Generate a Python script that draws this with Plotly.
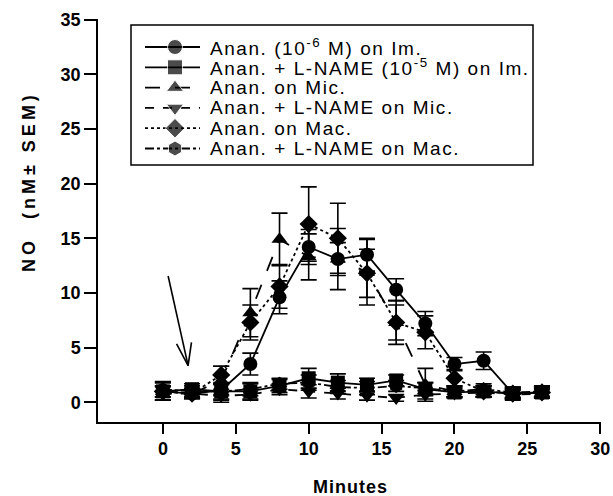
import plotly.graph_objects as go

minutes = [0, 2, 4, 6, 8, 10, 12, 14, 16, 18, 20, 22, 24, 26]

names = [
    "Anan. (10<sup>-6</sup> M) on Im.",
    "Anan. + L-NAME (10<sup>-5</sup> M) on Im.",
    "Anan. on Mic.",
    "Anan. + L-NAME on Mic.",
    "Anan. on Mac.",
    "Anan. + L-NAME on Mac.",
]

anan_im = [1.0, 0.8, 1.1, 3.5, 9.6, 14.2, 13.1, 13.5, 10.3, 7.2, 3.5, 3.8, 0.8, 0.9]
anan_im_err = [0.8, 0.5, 0.5, 1.0, 1.5, 1.6, 1.5, 1.5, 1.0, 1.1, 0.6, 0.8, 0.6, 0.5]

lname_im = [1.0, 1.2, 1.0, 1.0, 1.5, 2.2, 1.8, 1.6, 2.0, 1.2, 0.9, 1.0, 0.8, 0.9]
lname_im_err = [0.8, 0.5, 0.8, 0.7, 0.6, 0.9, 0.8, 0.6, 0.5, 0.6, 0.4, 0.5, 0.5, 0.5]

anan_mic = [1.0, 0.8, 2.0, 8.2, 14.9, 13.3, 13.1, 11.9, 7.3, 1.6, 1.0, 1.0, 0.8, 0.9]
anan_mic_err = [0.5, 0.4, 1.3, 2.2, 2.4, 2.1, 2.8, 3.0, 2.0, 1.5, 0.5, 0.5, 0.4, 0.4]

lname_mic = [0.8, 0.8, 0.6, 0.7, 1.2, 1.0, 0.8, 0.6, 0.4, 0.7, 0.8, 0.9, 0.7, 0.8]
lname_mic_err = [0.6, 0.4, 0.6, 0.5, 0.5, 0.6, 0.5, 0.4, 0.3, 0.4, 0.4, 0.4, 0.4, 0.4]

anan_mac = [1.0, 0.8, 2.5, 7.3, 10.6, 16.3, 15.0, 11.8, 7.3, 6.4, 2.2, 1.0, 0.8, 0.9]
anan_mac_err = [0.5, 0.4, 0.8, 1.6, 2.0, 3.4, 3.2, 2.2, 1.6, 1.5, 0.8, 0.5, 0.4, 0.4]

lname_mac = [1.2, 1.0, 1.0, 1.2, 1.7, 1.8, 1.4, 1.3, 1.5, 1.3, 1.0, 1.2, 0.9, 1.0]
lname_mac_err = [0.7, 0.5, 0.7, 0.6, 0.5, 0.7, 0.6, 0.6, 0.5, 0.5, 0.5, 0.5, 0.5, 0.5]

x_ticks = [0, 5, 10, 15, 20, 25, 30]
y_ticks = [0, 5, 10, 15, 20, 25, 30, 35]

series = [
    (anan_im, anan_im_err, "circle", "solid"),
    (lname_im, lname_im_err, "square", "solid"),
    (anan_mic, anan_mic_err, "triangle-up", "longdash"),
    (lname_mic, lname_mic_err, "triangle-down", "dash"),
    (anan_mac, anan_mac_err, "diamond", "dot"),
    (lname_mac, lname_mac_err, "hexagon", "dashdot"),
]

# arrow (data coords): tail, tip, head-left, head-right
arrow_tail = (0.36, 11.55)
arrow_tip = (1.73, 3.36)
arrow_left = (0.94, 5.34)
arrow_right = (1.96, 5.48)

W, H = 613, 496
ML, MR, MT, MB = 98, 12, 19, 74
PW, PH = W - ML - MR, H - MT - MB


def px(xp):
    return (xp - ML) / PW


def py(yp):
    return (H - MB - yp) / PH


FONT = "Liberation Sans, Arial"


def spaced(t, s):
    return f'<span style="letter-spacing:{s}px">{t}</span>'


fig = go.Figure()
for (vals, errs, sym, dash), name in zip(series, names):
    fig.add_trace(go.Scatter(
        x=minutes, y=vals, name=name, mode="lines+markers", showlegend=False,
        line=dict(color="black", width=1.8, dash=dash),
        marker=dict(symbol=sym, size=14, color="black"),
        error_y=dict(type="data", array=errs, visible=True, color="black",
                     thickness=1.6, width=8),
    ))

for p in (arrow_tail, arrow_left, arrow_right):
    fig.add_shape(type="line", xref="x", yref="y",
                  x0=p[0], y0=p[1], x1=arrow_tip[0], y1=arrow_tip[1],
                  line=dict(color="black", width=1.6))

# ---- hand-built legend (paper-space overlay axis) ----
fig.add_shape(type="rect", xref="paper", yref="paper",
              x0=px(131), x1=px(533), y0=py(165), y1=py(25),
              line=dict(color="black", width=1.5), fillcolor="white", layer="below")
row0, dy = 47, 20.3
for i, ((vals, errs, sym, dash), name) in enumerate(zip(series, names)):
    yy = py(row0 + i * dy)
    fig.add_trace(go.Scatter(
        x=[px(145), px(175), px(200)], y=[yy, yy, yy], xaxis="x2", yaxis="y2",
        mode="lines+markers", showlegend=False, hoverinfo="skip",
        line=dict(color="black", width=1.8, dash=dash),
        marker=dict(symbol=sym, size=[0, 15, 0], color="black"),
    ))
    fig.add_annotation(
        text=spaced(name, 1.55), xref="paper", yref="paper", x=px(208), y=yy,
        xanchor="left", yanchor="middle", showarrow=False,
        font=dict(family=FONT, size=19, color="black"),
    )

tickfont = dict(family=FONT, size=18, color="black", weight="bold")

fig.update_layout(
    width=W, height=H,
    margin=dict(l=ML, r=MR, t=MT, b=MB),
    plot_bgcolor="white", paper_bgcolor="white",
    showlegend=False,
    font=dict(family=FONT, size=18, color="black"),
    xaxis=dict(
        range=[-4.45, 30.05], tickvals=x_ticks, ticktext=[str(v) for v in x_ticks],
        showgrid=False, zeroline=False, showline=True, linecolor="black", linewidth=1.5,
        ticks="outside", ticklen=10, tickwidth=1.5, tickcolor="black",
        tickfont=tickfont, automargin=False,
    ),
    yaxis=dict(
        range=[-1.8, 35.05], tickvals=y_ticks, ticktext=[str(v) for v in y_ticks],
        showgrid=False, zeroline=False, showline=True, linecolor="black", linewidth=1.5,
        ticks="outside", ticklen=12, tickwidth=1.5, tickcolor="black",
        tickfont=tickfont, automargin=False,
    ),
    xaxis2=dict(domain=[0, 1], range=[0, 1], overlaying="x", anchor="y2", visible=False, fixedrange=True),
    yaxis2=dict(domain=[0, 1], range=[0, 1], overlaying="y", anchor="x2", visible=False, fixedrange=True),
)

fig.add_annotation(
    text="<b>" + spaced("Minutes", 1.0) + "</b>", xref="paper", yref="paper",
    x=px(350), y=py(487), showarrow=False, xanchor="center", yanchor="middle",
    font=dict(family=FONT, size=18, color="black"),
)
fig.add_annotation(
    text="<b>" + spaced("NO  (nM± SEM)", 4.0) + "</b>", xref="paper", yref="paper",
    x=px(29), y=py(182), textangle=-90, showarrow=False,
    xanchor="center", yanchor="middle",
    font=dict(family=FONT, size=18, color="black"),
)

fig.write_html(
    "out.html",
    config={"displayModeBar": False},
    post_script="document.body.style.margin='0';document.body.style.overflow='hidden';",
)
